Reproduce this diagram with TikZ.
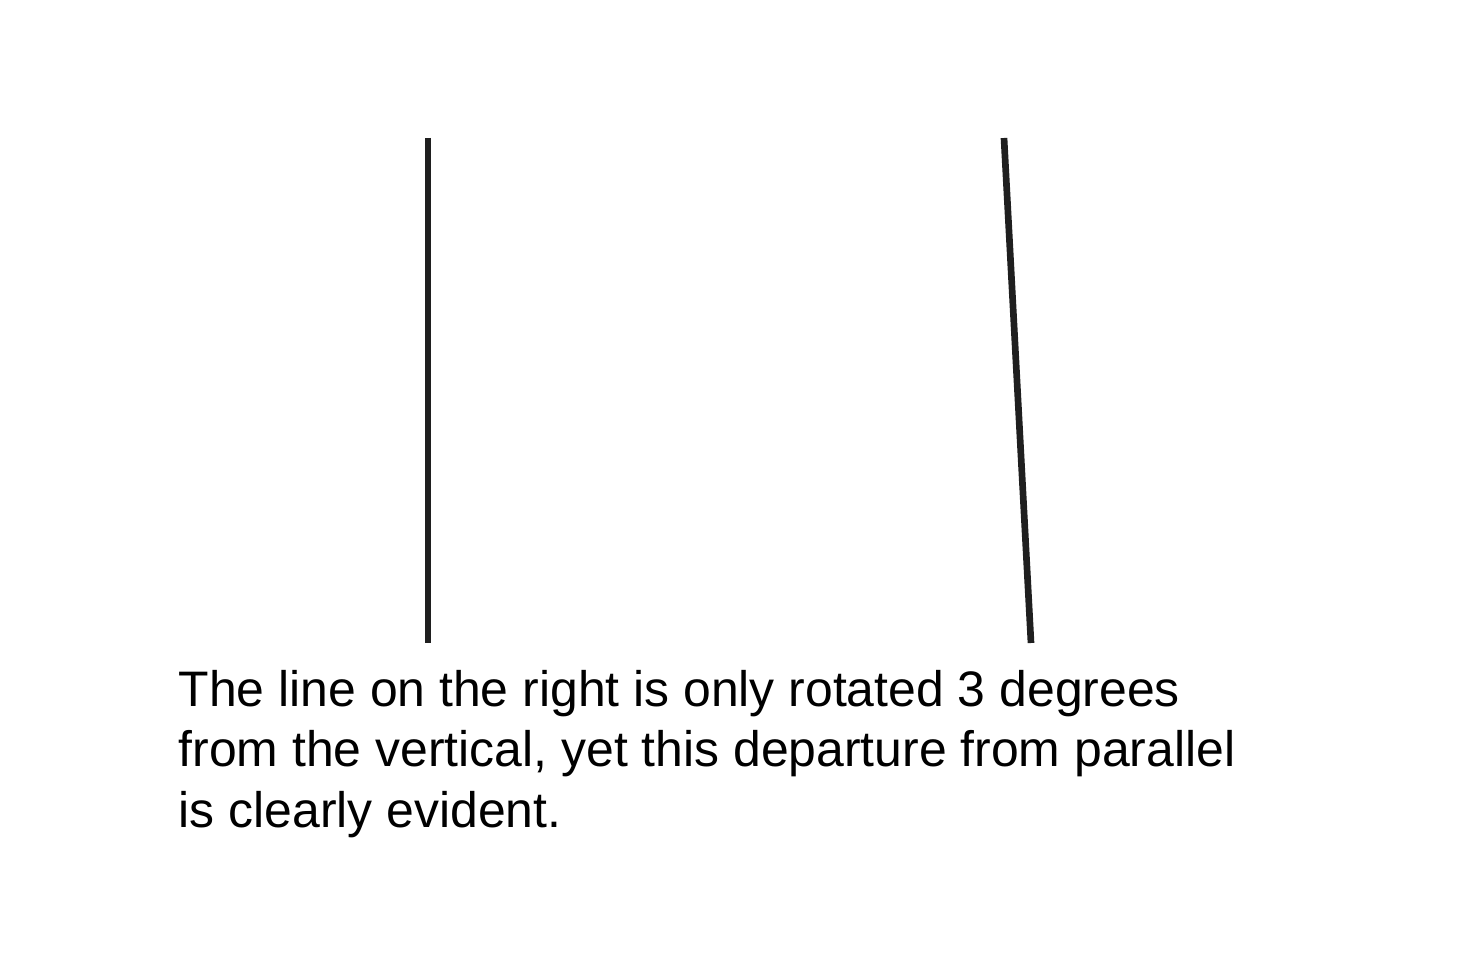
\documentclass[tikz,border=0pt]{standalone}
\usepackage{fontspec}
\setmainfont{Liberation Sans}
\usetikzlibrary{positioning}

\begin{document}
\begin{tikzpicture}[x=0.02cm, y=-0.02cm, thick]
  \tikzset{
    straightline/.style={line width=3.8pt, draw=black!88, line cap=butt},
    caption/.style={anchor=north west, align=left, inner sep=0pt, font=\fontsize{28.4}{34.2}\selectfont}
  }
  % Rahmen in Pixelmassen
  \useasboundingbox (0,0) rectangle (1474,962);

  % Linke Linie senkrecht
  \coordinate (lefttop) at (428,138);
  \coordinate (leftbottom) at (428,643);
  \draw[straightline] (lefttop) -- (leftbottom);

  % Rechte Linie um 3 Grad gedreht
  \coordinate (righttop) at (1004,138);
  \coordinate (rightbottom) at (1031,643);
  \draw[straightline] (righttop) -- (rightbottom);

  % Bildunterschrift
  \node[caption] (text) at (178,670) {The line on the right is only rotated 3 degrees\\from the vertical, yet this departure from parallel\\is clearly evident.};
\end{tikzpicture}
\end{document}
